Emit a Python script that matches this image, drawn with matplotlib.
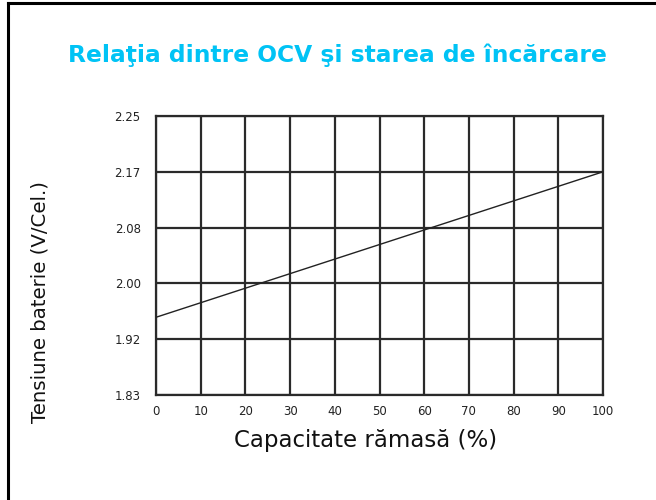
import matplotlib
matplotlib.use("Agg")
import matplotlib.pyplot as plt
from matplotlib.lines import Line2D
import numpy as np

# Data
capacity = [0, 100]
voltage = [1.947, 2.166]
y_tick_labels = ["1.83", "1.92", "2.00", "2.08", "2.17", "2.25"]
x_ticks = [0, 10, 20, 30, 40, 50, 60, 70, 80, 90, 100]

title = "Relaţia dintre OCV şi starea de încărcare"
xlabel = "Capacitate rămasă (%)"
ylabel = "Tensiune baterie (V/Cel.)"

W, H = 656, 500
fig = plt.figure(figsize=(W / 100, H / 100), dpi=100)
fig.patch.set_facecolor("white")

left, right, top, bottom = 156, 603, 116, 395
ax = fig.add_axes([left / W, 1 - bottom / H, (right - left) / W, (bottom - top) / H])

y_ticks = np.linspace(1.83, 2.25, 6)
ax.plot(capacity, voltage, color="#222222", lw=1.0, zorder=3)
ax.set_xlim(0, 100)
ax.set_ylim(1.83, 2.25)
ax.set_xticks(x_ticks)
ax.set_yticks(y_ticks)
ax.set_yticklabels(y_tick_labels)
ax.grid(True, color="#2a2a2a", lw=1.6)
for s in ax.spines.values():
    s.set_color("#2a2a2a")
    s.set_linewidth(1.6)
ax.tick_params(length=0, labelsize=8.5, colors="#222222", pad=7)
ax.tick_params(axis="y", pad=11)

fig.text(337 / W, 1 - 55 / H, title, ha="center", va="center",
         fontsize=16.8, fontweight="bold", color="#00C3F5")
fig.text(366 / W, 1 - 440 / H, xlabel, ha="center", va="center",
         fontsize=16.5, color="#111111")
fig.text(40 / W, 1 - 302 / H, ylabel, ha="center", va="center",
         rotation=90, fontsize=14.2, color="#111111")

# Frame lines of the surrounding box
fig.add_artist(Line2D([8 / W, 8 / W], [0, 1 - 3 / H], transform=fig.transFigure,
                      color="black", lw=2.2))
fig.add_artist(Line2D([8 / W, 1], [1 - 3 / H, 1 - 3 / H], transform=fig.transFigure,
                      color="black", lw=2.2))

fig.savefig("out.png", dpi=100)
